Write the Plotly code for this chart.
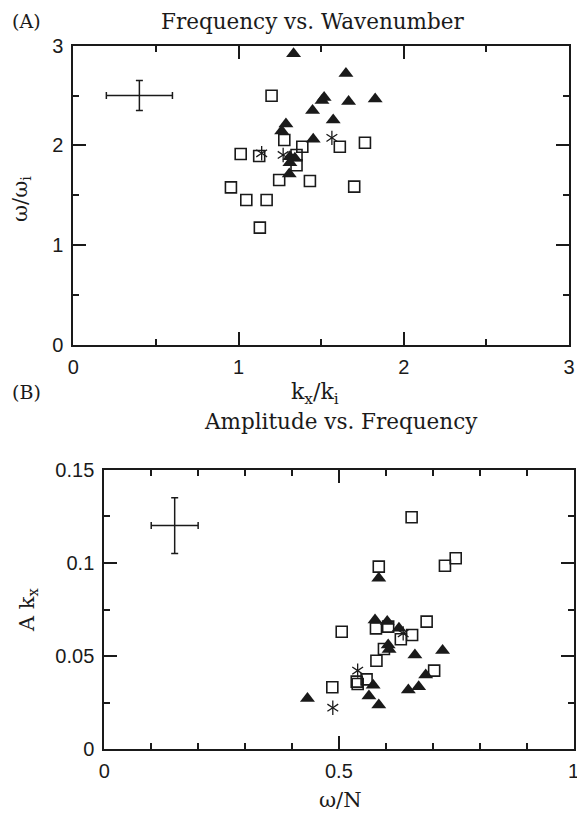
import plotly.graph_objects as go

# ---------- Panel A: Frequency vs. Wavenumber ----------
a_tri_x = [1.333, 1.650, 1.518, 1.505, 1.666, 1.827, 1.448, 1.573, 1.287, 1.261, 1.452, 1.311, 1.341, 1.311, 1.307]
a_tri_y = [2.92, 2.72, 2.48, 2.45, 2.44, 2.465, 2.35, 2.254, 2.214, 2.144, 2.06, 1.886, 1.87, 1.825, 1.712]

a_sq_x = [1.200, 1.277, 1.386, 1.613, 1.765, 1.013, 1.125, 1.351, 1.351, 1.246, 1.432, 1.700, 0.954, 1.047, 1.170, 1.129]
a_sq_y = [2.498, 2.053, 1.986, 1.986, 2.026, 1.913, 1.893, 1.903, 1.80, 1.652, 1.642, 1.585, 1.578, 1.451, 1.451, 1.173]

a_ast_x = [1.14, 1.270, 1.565]
a_ast_y = [1.92, 1.903, 2.075]

a_err_x, a_err_y = [0.4], [2.5]
a_err_dx, a_err_dy = 0.2, 0.15

a_ticks = [0, 1, 2, 3]

# ---------- Panel B: Amplitude vs. Frequency ----------
b_tri_x = [0.585, 0.577, 0.603, 0.628, 0.605, 0.607, 0.662, 0.721, 0.685, 0.573, 0.670, 0.648, 0.564, 0.585, 0.433]
b_tri_y = [0.0917, 0.0694, 0.0685, 0.0649, 0.056, 0.0536, 0.0506, 0.053, 0.0399, 0.0343, 0.0336, 0.0318, 0.0286, 0.0238, 0.0272]

b_sq_x = [0.655, 0.585, 0.749, 0.726, 0.687, 0.506, 0.579, 0.605, 0.656, 0.632, 0.596, 0.580, 0.703, 0.559, 0.538, 0.540, 0.486]
b_sq_y = [0.1245, 0.098, 0.1025, 0.0985, 0.0685, 0.0631, 0.0649, 0.0658, 0.0613, 0.059, 0.0538, 0.0475, 0.0422, 0.0375, 0.0363, 0.035, 0.0333]

b_ast_x = [0.637, 0.540, 0.487]
b_ast_y = [0.0622, 0.0422, 0.0223]

b_err_x, b_err_y = [0.15], [0.12]
b_err_dx, b_err_dy = 0.05, 0.015

b_xticks = [0, 0.5, 1]
b_xlabels = ["0", "0.5", "1"]
b_yticks = [0, 0.05, 0.1, 0.15]
b_ylabels = ["0", "0.05", "0.1", "0.15"]

INK = "#1a1a1a"
# The page body has an 8px margin; size the figure so it fills the 585x818 window.
OFF = 8
W, H = 585 - OFF, 818 - OFF


def px_x(p):
    return (p - OFF) / W


def px_y(p):
    return 1 - (p - OFF) / H


fig = go.Figure()


def add_panel(xa, ya, tx, ty, sx, sy, ax, ay, ex, ey, edx, edy):
    fig.add_trace(go.Scatter(
        x=sx, y=sy, mode="markers", xaxis=xa, yaxis=ya,
        marker=dict(symbol="square-open", size=11, color=INK, line=dict(width=1.6, color=INK)),
        showlegend=False, hoverinfo="skip"))
    fig.add_trace(go.Scatter(
        x=tx, y=ty, mode="markers", xaxis=xa, yaxis=ya,
        marker=dict(symbol="triangle-up", size=13, color=INK, line=dict(width=0)),
        showlegend=False, hoverinfo="skip"))
    for sym in ["y-up-open", "y-down-open"]:
        fig.add_trace(go.Scatter(
            x=ax, y=ay, mode="markers", xaxis=xa, yaxis=ya,
            marker=dict(symbol=sym, size=9, color=INK, line=dict(width=1.3, color=INK)),
            showlegend=False, hoverinfo="skip"))
    fig.add_trace(go.Scatter(
        x=ex, y=ey, mode="markers", xaxis=xa, yaxis=ya,
        marker=dict(size=1, color="rgba(0,0,0,0)"),
        error_x=dict(type="constant", value=edx, color=INK, thickness=1.5, width=3.5),
        error_y=dict(type="constant", value=edy, color=INK, thickness=1.5, width=3.5),
        showlegend=False, hoverinfo="skip"))


add_panel("x", "y", a_tri_x, a_tri_y, a_sq_x, a_sq_y, a_ast_x, a_ast_y,
          a_err_x, a_err_y, a_err_dx, a_err_dy)
add_panel("x2", "y2", b_tri_x, b_tri_y, b_sq_x, b_sq_y, b_ast_x, b_ast_y,
          b_err_x, b_err_y, b_err_dx, b_err_dy)

tickfont = dict(family="Liberation Sans", size=20, color=INK)
common = dict(showgrid=False, zeroline=False, showline=True, linewidth=2, linecolor=INK,
              mirror="ticks", ticks="inside", ticklen=13, tickwidth=1.5, tickcolor=INK,
              tickfont=tickfont, automargin=False)
minor_common = dict(ticks="inside", ticklen=6, tickwidth=1.5, tickcolor=INK, showgrid=False)

fig.update_layout(
    template="none",
    width=W, height=H,
    margin=dict(l=0, r=0, t=0, b=0, pad=0),
    paper_bgcolor="white", plot_bgcolor="white",
    showlegend=False,
    xaxis=dict(domain=[px_x(73.3), px_x(569)], range=[0, 3], tickvals=a_ticks,
               ticktext=[str(v) for v in a_ticks], anchor="y",
               minor=dict(dtick=0.5, **minor_common),
               ticklabelstandoff=3, **common),
    yaxis=dict(domain=[px_y(344.5), px_y(45.7)], range=[0, 3], tickvals=a_ticks,
               ticktext=[str(v) for v in a_ticks], anchor="x",
               minor=dict(dtick=0.5, **minor_common),
               ticklabelstandoff=4, **common),
    xaxis2=dict(domain=[px_x(104.3), px_x(573.5)], range=[0, 1], tickvals=b_xticks,
                ticktext=b_xlabels, anchor="y2",
                minor=dict(dtick=0.1, **minor_common),
                ticklabelstandoff=3, **common),
    yaxis2=dict(domain=[px_y(749.3), px_y(469.7)], range=[0, 0.15], tickvals=b_yticks,
                ticktext=b_ylabels, anchor="x2",
                minor=dict(dtick=0.025, **minor_common),
                ticklabelstandoff=4, **common),
)

serif = dict(family="DejaVu Serif", color=INK)


def ann(text, px, py, size, angle=0, xanchor="center"):
    fig.add_annotation(text=text, x=px_x(px), y=px_y(py), xref="paper", yref="paper",
                       showarrow=False, xanchor=xanchor, yanchor="middle", textangle=angle,
                       font=dict(size=size, **serif))


ann("(A)", 10, 21, 19, xanchor="left")
ann("Frequency vs. Wavenumber", 312, 21, 21.5)
ann("k<sub>x</sub>/k<sub>i</sub>", 315, 393, 22)
ann("ω/ω<sub>i</sub>", 21, 199, 21, angle=-90)

ann("(B)", 10, 392, 19, xanchor="left")
ann("Amplitude vs. Frequency", 341, 422, 21.5)
ann("ω/N", 340, 800, 21)
ann("A k<sub>x</sub>", 28, 610, 21, angle=-90)

fig.write_html("out.html")
